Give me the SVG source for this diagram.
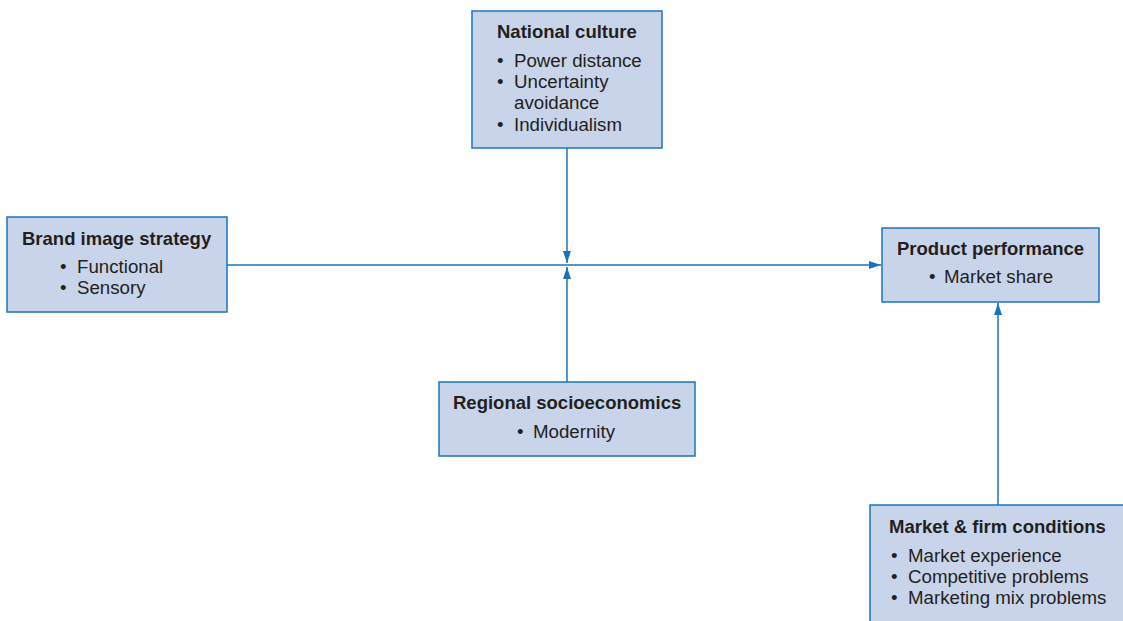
<svg xmlns="http://www.w3.org/2000/svg" width="1123" height="621" viewBox="0 0 1123 621">
<style>
.box{fill:#c8d4ea;stroke:#1a74bd;stroke-width:1.5}
.t{font-family:"Liberation Sans",Arial,sans-serif;font-weight:bold;font-size:18.5px;fill:#231f20}
.b{font-family:"Liberation Sans",Arial,sans-serif;font-size:18.7px;fill:#231f20}
.c{stroke:#1a74bd;stroke-width:1.5;fill:none}
</style>
<defs>
<marker id="ah" markerWidth="13" markerHeight="8" refX="12" refY="4" orient="auto" markerUnits="userSpaceOnUse">
<path d="M0,0 L12,4 L0,8 Z" fill="#1a74bd"/>
</marker>
</defs>
<rect width="1123" height="621" fill="#ffffff"/>
<g id="connectors">
<line class="c" x1="227" y1="265" x2="881" y2="265" marker-end="url(#ah)"/>
<line class="c" x1="567" y1="148" x2="567" y2="263" marker-end="url(#ah)"/>
<line class="c" x1="567" y1="382" x2="567" y2="267" marker-end="url(#ah)"/>
<line class="c" x1="998" y1="505" x2="998" y2="303" marker-end="url(#ah)"/>
</g>
<g id="national-culture">
<rect class="box" x="472" y="11" width="190" height="137"/>
<text class="t" x="497" y="38">National culture</text>
<text class="b"><tspan x="497" y="67">•</tspan><tspan x="514" y="67">Power distance</tspan></text>
<text class="b"><tspan x="497" y="88">•</tspan><tspan x="514" y="88">Uncertainty</tspan></text>
<text class="b"><tspan x="514" y="109">avoidance</tspan></text>
<text class="b"><tspan x="497" y="131">•</tspan><tspan x="514" y="131">Individualism</tspan></text>
</g>
<g id="brand-image-strategy">
<rect class="box" x="7" y="217" width="220" height="95"/>
<text class="t" x="22" y="245">Brand image strategy</text>
<text class="b"><tspan x="60" y="273">•</tspan><tspan x="77" y="273">Functional</tspan></text>
<text class="b"><tspan x="60" y="294">•</tspan><tspan x="77" y="294">Sensory</tspan></text>
</g>
<g id="product-performance">
<rect class="box" x="882" y="228" width="217" height="74"/>
<text class="t" x="897" y="255">Product performance</text>
<text class="b"><tspan x="929" y="283">•</tspan><tspan x="944" y="283">Market share</tspan></text>
</g>
<g id="regional-socioeconomics">
<rect class="box" x="439" y="382" width="256" height="74"/>
<text class="t" x="453" y="409">Regional socioeconomics</text>
<text class="b"><tspan x="517" y="438">•</tspan><tspan x="533" y="438">Modernity</tspan></text>
</g>
<g id="market-firm-conditions">
<rect class="box" x="870" y="505" width="262" height="130"/>
<text class="t" x="889" y="533">Market &amp; firm conditions</text>
<text class="b"><tspan x="891" y="562">•</tspan><tspan x="908" y="562">Market experience</tspan></text>
<text class="b"><tspan x="891" y="583">•</tspan><tspan x="908" y="583">Competitive problems</tspan></text>
<text class="b"><tspan x="891" y="604">•</tspan><tspan x="908" y="604">Marketing mix problems</tspan></text>
</g>
</svg>
